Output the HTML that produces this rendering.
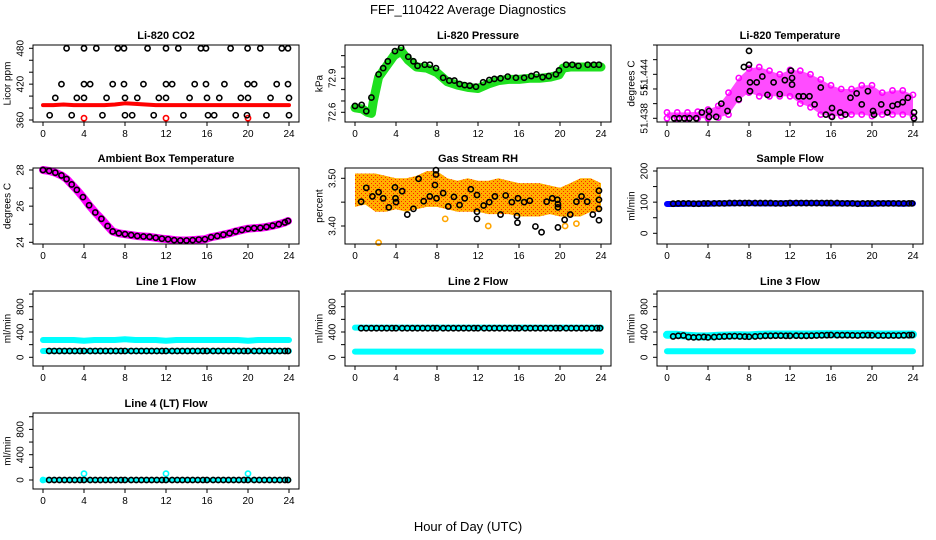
<!DOCTYPE html>
<html><head><meta charset="utf-8">
<style>
html,body{margin:0;padding:0;background:#fff;}
svg{display:block;font-family:"Liberation Sans",Helvetica,Arial,sans-serif;}
</style></head>
<body>
<svg id="chart" width="936" height="540" viewBox="0 0 936 540" xmlns="http://www.w3.org/2000/svg">
<defs>
<pattern id="rhpat" width="4" height="4" patternUnits="userSpaceOnUse">
<rect width="4" height="4" fill="#ffb000"/><rect x="1" y="1" width="1" height="1" fill="#ff2000"/><rect x="3" y="3" width="1" height="1" fill="#ff2000"/>
</pattern>
</defs>
<text x="468" y="14" text-anchor="middle" font-size="13">FEF_110422  Average Diagnostics</text>
<text x="468" y="531" text-anchor="middle" font-size="13">Hour of Day (UTC)</text>
</svg>
<script>
// ---------- data ----------
const hourTicks = [0,4,8,12,16,20,24];
const bandHours = [0,1,2,3,4,5,6,7,8,9,10,11,12,13,14,15,16,17,18,19,20,21,22,23,24];
const blackHours = [0.6,1.1,1.6,2.1,2.6,3.1,3.6,4.0,4.6,5.1,5.6,6.1,6.6,7.1,7.6,8.0,8.6,9.1,9.6,10.1,10.6,11.1,11.6,12.0,12.6,13.1,13.6,14.1,14.6,15.1,15.6,16.0,16.6,17.1,17.6,18.1,18.6,19.1,19.6,20.0,20.6,21.1,21.6,22.1,22.6,23.1,23.6,23.9];

// CO2
const co2Hours = [2.3,4.0,5.2,7.3,7.9,10.2,12.0,13.2,15.4,15.9,18.3,19.96,21.2,23.3,23.9, 1.8,4,4.6,6.8,7.9,9.8,12,12.6,14.8,15.9,17.7,19.96,20.6,22.8,23.9, 1.2,3.3,4.0,6.2,8.0,9.2,11.3,12,14.3,16,17.2,19.3,20,22.2,24, 0.65,2.8,5.8,8,8.7,10.8,13.7,16.1,16.7,18.8,19.9,21.8,24];
const co2Values = [480,480,480,480,480,480,480,480,480,480,480,480,480,480,480, 420,420,420,420,420,420,420,420,420,420,420,420,420,420,420, 397,397,397,397,397,397,397,397,397,397,397,397,397,397,397, 368,368,368,368,368,368,368,368,368,368,368,368,368];
const co2Band = [385,385,386,385,385,385,385,386,388,387,386,385,385,385,385,385,385,385,385,385,385,385,385,385,385];
const co2OutHours = [4,12,20];
const co2OutValues = [363,363,363];

// Pressure
const presHours = [0,0.65,1.1,1.6,2.3,2.75,3.2,3.9,4.5,5.2,5.7,6.1,6.8,7.3,7.9,8.6,9.2,9.7,10.2,10.7,11.2,11.8,12.5,13.1,13.6,14.2,14.9,15.7,16.5,17.2,17.7,18.3,18.9,19.6,19.9,20.6,21.2,21.8,22.7,23.3,23.8];
const presValues = [72.656,72.665,72.61,72.73,72.935,72.99,73.05,73.14,73.17,73.09,73.05,73.01,73.02,73.02,72.99,72.905,72.88,72.88,72.85,72.84,72.835,72.826,72.865,72.885,72.895,72.9,72.915,72.905,72.905,72.92,72.935,72.91,72.92,72.935,72.97,73.02,73.02,73.01,73.02,73.02,73.02];
const presBandHours = [0,0.7,1.2,1.6,1.8,2.3,3,3.8,4.5,5.2,6,7,8,9,10,11,12,13,14,15,16,17,18,19,19.9,20.3,21,22,23,24];
const presBand = [72.64,72.63,72.6,72.59,72.7,72.91,73.0,73.1,73.14,73.06,73.0,72.99,72.95,72.87,72.84,72.82,72.81,72.85,72.88,72.89,72.89,72.9,72.9,72.91,72.93,72.99,73.0,73.0,73.0,73.0];

// Li-820 temperature
const tempHours = [0.7,1.2,1.7,2.2,2.85,3.4,4.1,4.1,4.8,5.3,5.9,7.0,7.5,8.0,8.0,8.1,8.1,8.75,9.3,9.8,10.4,11.0,11.5,12.1,12.2,12.2,12.85,13.3,13.9,14.4,15.0,15.5,16.1,16.1,16.9,17.4,17.9,18.5,19.0,19.6,20.1,20.2,20.9,21.5,22.0,22.5,23.0,23.5,24.1,24.1];
const tempValues = [51.438,51.438,51.438,51.438,51.438,51.4388,51.439,51.4382,51.4382,51.440,51.439,51.4406,51.445,51.4453,51.4472,51.4417,51.4429,51.4429,51.4437,51.4412,51.4429,51.4413,51.4432,51.4445,51.4435,51.4426,51.441,51.441,51.441,51.4399,51.4422,51.4385,51.4394,51.4382,51.4388,51.4385,51.4408,51.4414,51.4399,51.4417,51.439,51.4385,51.4399,51.4388,51.4397,51.4399,51.4402,51.4408,51.4388,51.438];
const tempUp = [51.4388,51.4388,51.4388,51.4389,51.4392,51.4397,51.4415,51.4435,51.4448,51.4450,51.4445,51.4440,51.4446,51.4445,51.4440,51.4433,51.4425,51.4420,51.4420,51.4425,51.4425,51.4415,51.4418,51.4418,51.4412];
const tempLo = [51.4380,51.4380,51.4380,51.4380,51.4380,51.4381,51.4385,51.4405,51.4415,51.4410,51.4410,51.4410,51.4410,51.4400,51.4395,51.4385,51.4383,51.4383,51.4385,51.4385,51.4383,51.4385,51.4385,51.4385,51.4383];

// Ambient box temperature
const ambHours = [0,0.6,1.2,1.8,2.3,2.8,3.3,3.9,4.5,5.1,5.7,6.3,6.8,7.4,8.0,8.6,9.2,9.8,10.4,11,11.6,12.2,12.8,13.4,14,14.6,15.2,15.8,16.4,17,17.6,18.2,18.8,19.4,20,20.6,21.2,21.8,22.4,23,23.6,23.9];
const ambValues = [28,27.95,27.85,27.7,27.5,27.2,26.9,26.5,26.05,25.65,25.3,24.9,24.6,24.5,24.45,24.4,24.35,24.32,24.3,24.25,24.2,24.17,24.12,24.1,24.1,24.12,24.15,24.17,24.28,24.35,24.42,24.5,24.6,24.68,24.75,24.78,24.8,24.85,24.92,25.0,25.1,25.18];

// Gas stream RH
const rhHours = [0.6,1.1,1.7,2.3,2.75,3.3,3.9,3.95,4.0,4.6,5.1,5.7,6.2,6.7,7.3,7.8,7.9,7.9,7.95,8.6,9.1,9.65,10.2,10.7,11.3,11.9,11.9,11.9,12.55,13.1,13.65,14.2,14.7,15.3,15.8,15.85,15.9,16.5,17.05,17.6,18.2,18.7,19.25,19.75,19.8,19.8,19.8,20.45,21.0,21.6,22.1,22.65,23.2,23.8,23.8,23.8,23.8];
const rhValues = [3.451,3.48,3.462,3.471,3.458,3.439,3.481,3.458,3.45,3.473,3.424,3.436,3.499,3.452,3.462,3.486,3.517,3.508,3.458,3.469,3.441,3.461,3.444,3.458,3.477,3.465,3.43,3.415,3.443,3.45,3.462,3.424,3.464,3.45,3.421,3.407,3.458,3.45,3.453,3.399,3.387,3.451,3.458,3.455,3.446,3.439,3.397,3.413,3.424,3.451,3.462,3.451,3.424,3.474,3.455,3.436,3.412];
const rhUp = [3.51,3.51,3.51,3.505,3.50,3.50,3.505,3.515,3.515,3.50,3.495,3.50,3.495,3.495,3.50,3.495,3.49,3.49,3.49,3.485,3.48,3.49,3.50,3.50,3.49];
const rhLo = [3.44,3.445,3.43,3.43,3.435,3.43,3.435,3.44,3.44,3.435,3.43,3.43,3.43,3.425,3.425,3.425,3.42,3.42,3.42,3.425,3.42,3.42,3.42,3.43,3.43];

// Sample flow
const sampleBand = [94,94,95,95,95,96,96,97,97,96,96,96,97,97,97,97,96,96,96,95,95,96,96,95,96];
const sampleValues = [95,96,96,96,95,95,96,96,96,96,96,97,97,97,97,97,97,97,97,97,96,96,96,97,97,97,97,97,97,97,97,97,97,96,96,96,95,96,96,96,96,96,96,96,96,96,96,96];

// Line flows
const l1Upper = [273,273,273,273,262,273,273,273,285,273,273,273,262,273,273,273,273,273,273,273,262,273,273,273,273];
const l1Lower = [100,100,100,100,100,100,100,100,100,100,100,100,100,100,100,100,100,100,100,100,100,100,100,100,100];
const l1Values = [100,100,100,100,100,100,100,100,100,100,100,100,100,100,100,100,100,100,100,100,100,100,100,100,100,100,100,100,100,100,100,100,100,100,100,100,100,100,100,100,100,100,100,100,100,100,100,100];
const l2Upper = [470,470,470,470,470,470,470,470,470,470,470,470,470,470,470,470,470,470,470,470,470,470,470,470,470];
const l2Lower = [90,90,90,90,90,90,90,90,90,90,90,90,90,90,90,90,90,90,90,90,90,90,90,90,90];
const l2Values = [460,460,460,460,460,460,460,460,460,460,460,460,460,460,460,460,460,460,460,460,460,460,460,460,460,460,460,460,460,460,460,460,460,460,460,460,460,460,460,460,460,460,460,460,460,460,460,460];
const l3Upper = [355,355,340,330,330,340,345,350,345,355,360,360,360,360,360,365,365,365,365,365,365,360,360,360,360];
const l3Lower = [95,95,95,95,95,95,95,95,95,95,95,95,95,95,95,95,95,95,95,95,95,95,95,95,95];
const l3Values = [330,340,345,320,315,318,322,315,320,325,330,332,335,330,328,325,330,335,340,340,342,342,340,340,342,340,340,342,345,348,350,352,350,350,350,348,345,350,350,348,345,345,345,345,345,348,350,352];
const l4Band = [0,0,0,0,0,0,0,0,0,0,0,0,0,0,0,0,0,0,0,0,0,0,0,0,0];
const l4Values = [0,0,0,0,0,0,0,0,0,0,0,0,0,0,0,0,0,0,0,0,0,0,0,0,0,0,0,0,0,0,0,0,0,0,0,0,0,0,0,0,0,0,0,0,0,0,0,0];
const l4BumpHours = [0,4,12,20];
const l4BumpValues = [0,100,100,100];

// ---------- drawing ----------
const NS = "http://www.w3.org/2000/svg";
const svg = document.getElementById('chart');
const colX0 = [43, 355, 667];
const PXH = 10.25;
const rowTop = [45, 168, 291, 413];
const rowBot = [122, 244, 366, 489];

function el(tag, attrs, parent) {
  const e = document.createElementNS(NS, tag);
  for (const k in attrs) e.setAttribute(k, attrs[k]);
  (parent || svg).appendChild(e);
  return e;
}

function makePanel(name, title, ylab, col, row, v1, p1, v2, p2, ticks, labels, labelText) {
  const g = el('g', {});
  
  
  const x0 = colX0[col];
  const top = rowTop[row], bot = rowBot[row];
  const left = x0 - 10, right = x0 + 256;
  const X = h => x0 + h * PXH;
  const Y = v => p1 + (v - v1) * (p2 - p1) / (v2 - v1);
  const t = el('text', {x: (left + right) / 2, y: top - 6, 'text-anchor': 'middle', 'font-size': 11, 'font-weight': 'bold'}, g);
  t.textContent = title;
  
  
  const yl = el('text', {x: left - 25, y: (top + bot) / 2, 'text-anchor': 'middle', 'dominant-baseline': 'central', 'font-size': 10, transform: 'rotate(-90 ' + (left - 25) + ' ' + ((top + bot) / 2) + ')'}, g);
  yl.textContent = ylab;
  
  
  const data = el('g', {}, g);
  
  
  const frame = el('rect', {x: left, y: top, width: right - left, height: bot - top, fill: 'none', stroke: '#000', 'stroke-width': 1}, g);
  
  
  hourTicks.forEach(h => {
    el('line', {x1: X(h), x2: X(h), y1: bot, y2: bot + 4, stroke: '#000'}, g);
    const tx = el('text', {x: X(h), y: bot + 15, 'text-anchor': 'middle', 'font-size': 10}, g);
    tx.textContent = h;
    
    
  });
  ticks.forEach(v => {
    el('line', {x1: left, x2: left - 4, y1: Y(v), y2: Y(v), stroke: '#000'}, g);
  });
  labels.forEach((v, i) => {
    const lx = left - 12;
    const tx = el('text', {x: lx, y: Y(v), 'text-anchor': 'middle', 'dominant-baseline': 'central', 'font-size': 10, transform: 'rotate(-90 ' + lx + ' ' + Y(v) + ')'}, g);
    tx.textContent = labelText ? labelText[i] : v;
    
    
  });
  return {g: data, X, Y};
}

function band(p, hours, vals, color, w, name) {
  const d = hours.map((h, i) => (i ? 'L' : 'M') + p.X(h).toFixed(1) + ' ' + p.Y(vals[i]).toFixed(1)).join(' ');
  const e = el('path', {d, fill: 'none', stroke: color, 'stroke-width': w, 'stroke-linecap': 'round', 'stroke-linejoin': 'round'}, p.g);
  
  
}
function area(p, hours, up, lo, fill, name, op) {
  let d = hours.map((h, i) => (i ? 'L' : 'M') + p.X(h).toFixed(1) + ' ' + p.Y(up[i]).toFixed(1)).join(' ');
  for (let i = hours.length - 1; i >= 0; i--) d += ' L' + p.X(hours[i]).toFixed(1) + ' ' + p.Y(lo[i]).toFixed(1);
  const e = el('path', {d: d + 'Z', fill, stroke: 'none', 'fill-opacity': op || 1}, p.g);
  
  
}
function pts(p, hours, vals, color, name, r) {
  hours.forEach((h, i) => {
    const c = el('circle', {cx: p.X(h), cy: p.Y(vals[i]), r: r || 2.6, fill: 'none', stroke: color, 'stroke-width': 1.6}, p.g);
    
    
  });
}

// Panel 1: CO2
let p = makePanel('co2', 'Li-820 CO2', 'Licor ppm', 0, 0, 360, 120, 480, 48.3, [360,380,400,420,440,460,480], [360,420,480]);
band(p, bandHours, co2Band, '#ff0000', 4, 'co2-raw-band');
pts(p, co2OutHours, co2OutValues, '#ff0000', 'co2-outlier-point');
pts(p, co2Hours, co2Values, '#000', 'co2-average-point');

// Panel 2: Pressure
p = makePanel('pressure', 'Li-820 Pressure', 'kPa', 1, 0, 72.6, 112.3, 72.7, 100.97, [72.6,72.7,72.8,72.9,73.0,73.1], [72.6,72.9], ['72.6','72.9']);
band(p, presBandHours, presBand, '#1ee01e', 9, 'pressure-raw-band');
pts(p, presHours, presValues, '#000', 'pressure-average-point');

// Panel 3: Li-820 Temperature
p = makePanel('li820-temp', 'Li-820 Temperature', 'degrees C', 2, 0, 51.438, 118.3, 51.439, 110.97, [51.438,51.440,51.442,51.444,51.446,51.448], [51.438,51.442,51.444], ['51.438','51.','51.444']);
area(p, bandHours, tempUp, tempLo, '#ff00ff', 'li820-temp-raw-band', 0.7);
pts(p, bandHours, tempUp, '#ff00ff', 'li820-temp-raw-point');
pts(p, bandHours, tempLo, '#ff00ff', 'li820-temp-raw-point');
pts(p, tempHours, tempValues, '#000', 'li820-temp-average-point');

// Panel 4: Ambient box temperature
p = makePanel('ambient-temp', 'Ambient Box Temperature', 'degrees C', 0, 1, 24, 242.3, 28, 170, [24,25,26,27,28], [24,26,28]);
band(p, ambHours, ambValues, '#ff00ff', 8, 'ambient-temp-raw-band');
pts(p, ambHours, ambValues, '#000', 'ambient-temp-average-point');

// Panel 5: Gas stream RH
p = makePanel('gas-rh', 'Gas Stream RH', 'percent', 1, 1, 3.40, 226, 3.50, 178.3, [3.40,3.45,3.50], [3.40,3.50], ['3.40','3.50']);
area(p, bandHours, rhUp, rhLo, 'url(#rhpat)', 'gas-rh-raw-band');
pts(p, [2.3,8.8,13.0,20.5,21.6], [3.365,3.415,3.40,3.40,3.405], '#ffa500', 'gas-rh-raw-point');
pts(p, rhHours, rhValues, '#000', 'gas-rh-average-point');

// Panel 6: Sample flow
p = makePanel('sample-flow', 'Sample Flow', 'ml/min', 2, 1, 0, 233.3, 200, 171, [0,50,100,150,200], [0,100,200]);
band(p, bandHours, sampleBand, '#0000ff', 6, 'sample-flow-raw-band');
pts(p, blackHours, sampleValues, '#000', 'sample-flow-average-point');

// Panels 7-10: Line flows
const flowTicks = [0,200,400,600,800,1000];
p = makePanel('line1-flow', 'Line 1 Flow', 'ml/min', 0, 2, 0, 357.3, 200, 344.65, flowTicks, [0,400,800]);
band(p, bandHours, l1Upper, '#00ffff', 6, 'line1-flow-raw-band');
band(p, bandHours, l1Lower, '#00ffff', 6, 'line1-flow-raw-band-low');
pts(p, blackHours, l1Values, '#000', 'line1-flow-average-point');

p = makePanel('line2-flow', 'Line 2 Flow', 'ml/min', 1, 2, 0, 357.3, 200, 344.65, flowTicks, [0,400,800]);
band(p, bandHours, l2Upper, '#00ffff', 6, 'line2-flow-raw-band');
band(p, bandHours, l2Lower, '#00ffff', 6, 'line2-flow-raw-band-low');
pts(p, blackHours, l2Values, '#000', 'line2-flow-average-point');

p = makePanel('line3-flow', 'Line 3 Flow', 'ml/min', 2, 2, 0, 357.3, 200, 344.65, flowTicks, [0,400,800]);
band(p, bandHours, l3Upper, '#00ffff', 8, 'line3-flow-raw-band');
band(p, bandHours, l3Lower, '#00ffff', 6, 'line3-flow-raw-band-low');
pts(p, blackHours, l3Values, '#000', 'line3-flow-average-point');

p = makePanel('line4-flow', 'Line 4 (LT) Flow', 'ml/min', 0, 3, 0, 480, 200, 467.35, flowTicks, [0,400,800]);
band(p, bandHours, l4Band, '#00ffff', 5, 'line4-flow-raw-band');
pts(p, l4BumpHours, l4BumpValues, '#00ffff', 'line4-flow-raw-point');
pts(p, blackHours, l4Values, '#000', 'line4-flow-average-point');
</script>
</body></html>
